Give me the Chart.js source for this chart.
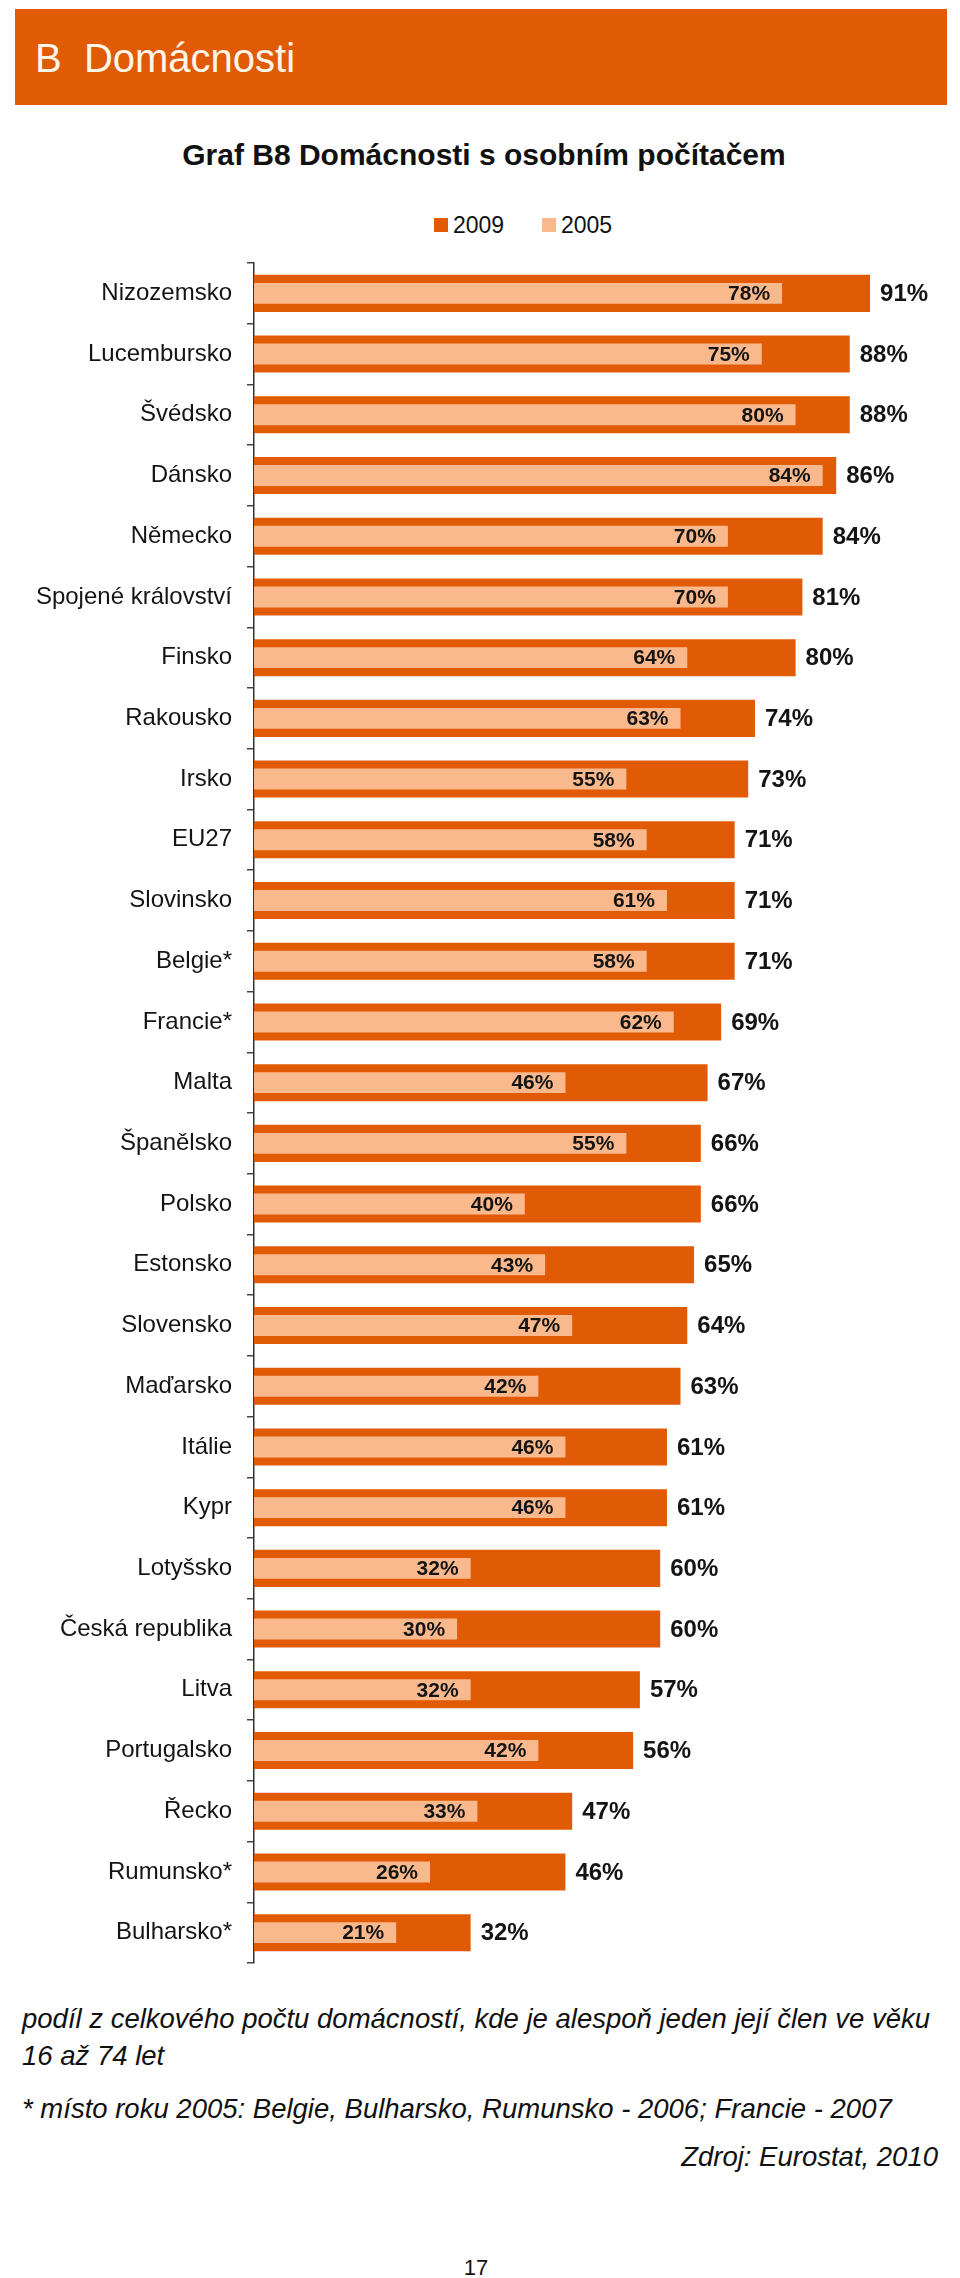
<!DOCTYPE html>
<html lang="cs">
<head>
<meta charset="utf-8">
<title>Graf B8 Domácnosti s osobním počítačem</title>
<script src="https://cdn.jsdelivr.net/npm/chart.js@4.4.1/dist/chart.umd.min.js"></script>
<style>
  html, body { margin: 0; padding: 0; background: #fff; }
  body { width: 960px; height: 2278px; position: relative; overflow: hidden;
         font-family: "Liberation Sans", Arial, sans-serif; color: #111; }
  .abs { position: absolute; white-space: pre; }
  #header { left: 15px; top: 9px; width: 932px; height: 96px; background: #E15A06; }
  #header span { position: absolute; left: 20px; top: 29px; font-size: 40px; line-height: 40px; color: #FFF6EA; }
  #title { left: 0; top: 140px; width: 968px; text-align: center; font-size: 30px; line-height: 30px; font-weight: bold; }
  .sw { position: absolute; width: 14px; height: 14px; top: 218px; }
  .lg { top: 214px; font-size: 23px; line-height: 23px; }
  #chart { position: absolute; left: 0; top: 253px; }
  .note { font-style: italic; font-size: 27.5px; line-height: 37px; }
</style>
</head>
<body>
<div id="header" class="abs"><span>B  Domácnosti</span></div>
<div id="title" class="abs">Graf B8 Domácnosti s osobním počítačem</div>

<div class="sw" style="left:434px;background:#E15A06"></div>
<div class="abs lg" style="left:453px">2009</div>
<div class="sw" style="left:542px;background:#FAB98D"></div>
<div class="abs lg" style="left:561px">2005</div>

<canvas id="chart" width="960" height="1720"></canvas>

<div class="abs note" style="left:22px;top:2000px">podíl z celkového počtu domácností, kde je alespoň jeden její člen ve věku
16 až 74 let</div>
<div class="abs note" style="left:22px;top:2090px">* místo roku 2005: Belgie, Bulharsko, Rumunsko - 2006; Francie - 2007</div>
<div class="abs note" style="right:22px;top:2138px">Zdroj: Eurostat, 2010</div>
<div class="abs" style="left:0;width:952px;text-align:center;top:2257px;font-size:22px;line-height:22px">17</div>

<script>
const countries = ['Nizozemsko', 'Lucembursko', 'Švédsko', 'Dánsko', 'Německo', 'Spojené království',
    'Finsko', 'Rakousko', 'Irsko', 'EU27', 'Slovinsko', 'Belgie*', 'Francie*', 'Malta', 'Španělsko',
    'Polsko', 'Estonsko', 'Slovensko', 'Maďarsko', 'Itálie', 'Kypr', 'Lotyšsko', 'Česká republika',
    'Litva', 'Portugalsko', 'Řecko', 'Rumunsko*', 'Bulharsko*'];
const values2009 = [91, 88, 88, 86, 84, 81, 80, 74, 73, 71, 71, 71, 69, 67, 66, 66, 65, 64, 63, 61, 61, 60, 60, 57, 56, 47, 46, 32];
const values2005 = [78, 75, 80, 84, 70, 70, 64, 63, 55, 58, 61, 58, 62, 46, 55, 40, 43, 47, 42, 46, 46, 32, 30, 32, 42, 33, 26, 21];

const FONT = '"Liberation Sans", Arial, sans-serif';

// value labels: 2009 after the bar end, 2005 inside its bar, right aligned
const valueLabels = {
    id: 'valueLabels',
    afterDatasetsDraw(chart) {
        const ctx = chart.ctx;
        ctx.save();
        ctx.fillStyle = '#141414';
        ctx.textBaseline = 'middle';
        chart.data.datasets.forEach((ds, i) => {
            const meta = chart.getDatasetMeta(i);
            meta.data.forEach((bar, j) => {
                const txt = ds.data[j] + '%';
                if (ds.label === '2009') {
                    ctx.font = 'bold 24px ' + FONT;
                    ctx.textAlign = 'left';
                    ctx.fillText(txt, bar.x + 10, bar.y + 1);
                } else {
                    ctx.font = 'bold 21px ' + FONT;
                    ctx.textAlign = 'right';
                    ctx.fillText(txt, bar.x - 12, bar.y + 1);
                }
            });
        });
        ctx.restore();
    }
};

new Chart(document.getElementById('chart'), {
    type: 'bar',
    data: {
        labels: countries,
        datasets: [{
            label: '2009',
            data: values2009,
            backgroundColor: '#E15A06',
            barPercentage: 0.61,
            categoryPercentage: 1,
            grouped: false,
            order: 1
        }, {
            label: '2005',
            data: values2005,
            backgroundColor: '#FAB98D',
            barPercentage: 0.345,
            categoryPercentage: 1,
            grouped: false,
            order: 0
        }]
    },
    options: {
        indexAxis: 'y',
        responsive: false,
        animation: false,
        layout: { padding: { top: 10, bottom: 10, left: 0, right: 29 } },
        scales: {
            x: { display: false, min: 0, max: 100 },
            y: {
                afterFit(scale) {
                    scale.width = 254;
                    scale.paddingTop = 0;
                    scale.paddingBottom = 0;
                },
                border: { display: true, color: '#333', width: 1.5 },
                grid: { drawOnChartArea: false, drawTicks: true, tickLength: 7, color: '#444', lineWidth: 1.5 },
                ticks: { autoSkip: false, padding: 15, color: '#141414', font: { family: FONT, size: 24 } }
            }
        },
        plugins: {
            legend: { display: false },
            tooltip: { enabled: false }
        }
    },
    plugins: [valueLabels]
});
</script>
</body>
</html>
